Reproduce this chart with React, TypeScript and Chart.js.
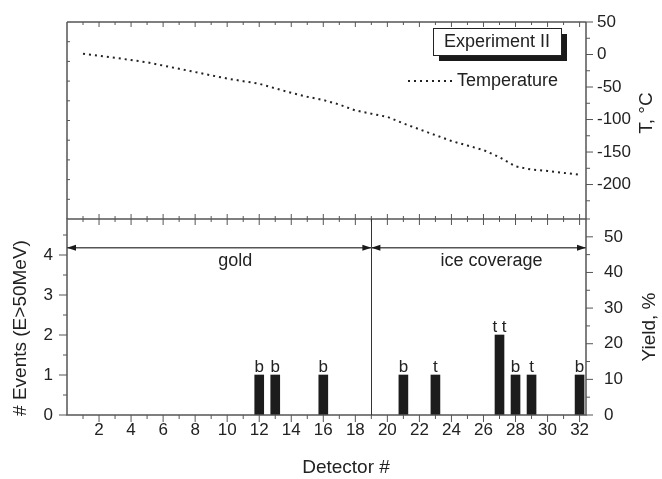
import React, { useEffect, useRef } from 'react';
import { Chart, registerables } from 'chart.js';

Chart.register(...registerables);

const FONT = '"Liberation Sans", Arial, Helvetica, sans-serif';
const TEXT = '#222222';
const FRAME = '#555555';

// Temperature curve (top panel)
const detectorNumbers = [1, 2, 3, 4, 5, 6, 7, 8, 9, 10, 11, 12, 13, 14, 15, 16, 17, 18, 19, 20, 21, 22, 23, 24, 25, 26, 27, 28, 29, 30, 31, 32];
const temperatureC = [1, -2, -5, -8.5, -12, -17, -22, -27, -32, -37, -41, -45, -52, -59, -65, -70, -77, -86, -91, -96, -106, -115, -124, -133, -140, -147, -158, -172, -177, -179, -182, -185];

// Events (bottom panel)
const eventDetectors = [12, 13, 16, 21, 23, 27, 28, 29, 32];
const eventCounts = [1, 1, 1, 1, 1, 2, 1, 1, 1];
const eventTags = ['b', 'b', 'b', 'b', 't', 't t', 'b', 't', 'b'];

// Coverage regions
const regionNames = ['gold', 'ice coverage'];
const regionStarts = [0, 19];
const regionEnds = [19, 32.4];
const regionLabelX = [10.5, 26.5];
const regionArrowLevel = 4.18;
const regionLabelLevel = 3.84;
const dividerDetector = 19;

// Axis ranges / tick labels
const xMin = 0;
const xMax = 32.4;
const tempMin = -253;
const tempMax = 50;
const eventsMax = 4.9;
const yieldMax = 55;
const xTickLabels = [2, 4, 6, 8, 10, 12, 14, 16, 18, 20, 22, 24, 26, 28, 30, 32];
const tempTickLabels = [-200, -150, -100, -50, 0, 50];
const eventTickLabels = [0, 1, 2, 3, 4];
const yieldTickLabels = [0, 10, 20, 30, 40, 50];

const fixAxis = (w?: number, h?: number) => (s: any) => {
  if (w !== undefined) s.width = w;
  if (h !== undefined) s.height = h;
  s.paddingTop = 0;
  s.paddingBottom = 0;
  s.paddingLeft = 0;
  s.paddingRight = 0;
};
const setTicks = (vals: number[]) => (s: any) => {
  s.ticks = vals.map((v) => ({ value: v }));
};
const noGrid = { display: false, drawTicks: false, tickLength: 0, offset: false };

function seg(ctx: CanvasRenderingContext2D, x1: number, y1: number, x2: number, y2: number) {
  ctx.beginPath();
  ctx.moveTo(x1, y1);
  ctx.lineTo(x2, y2);
  ctx.stroke();
}

function rotatedText(ctx: CanvasRenderingContext2D, text: string, x: number, y: number) {
  ctx.save();
  ctx.translate(x, y);
  ctx.rotate(-Math.PI / 2);
  ctx.textAlign = 'center';
  ctx.textBaseline = 'middle';
  ctx.fillText(text, 0, 0);
  ctx.restore();
}

const topPlugin = {
  id: 'topDecor',
  afterDraw(chart: any) {
    const ctx: CanvasRenderingContext2D = chart.ctx;
    const ca = chart.chartArea;
    const x = chart.scales.x;
    const yL = chart.scales.yL;
    const yT = chart.scales.yT;
    ctx.save();
    ctx.strokeStyle = FRAME;
    ctx.lineWidth = 1.5;
    seg(ctx, ca.left, ca.top, ca.right, ca.top);
    seg(ctx, ca.left, ca.top, ca.left, ca.bottom);
    seg(ctx, ca.right, ca.top, ca.right, ca.bottom);
    ctx.lineWidth = 1;
    for (let v = 1; v <= 32; v++) {
      const px = x.getPixelForValue(v);
      const len = v % 2 === 0 ? 5 : 3;
      seg(ctx, px, ca.top, px, ca.top + len);
      seg(ctx, px, ca.bottom, px, ca.bottom - len);
    }
    for (let v = 1; v <= 9; v++) {
      const py = yL.getPixelForValue(v);
      seg(ctx, ca.left, py, ca.left + 3, py);
    }
    for (let v = -225; v <= 50; v += 25) {
      const py = yT.getPixelForValue(v);
      const len = v % 50 === 0 ? 7 : 4;
      seg(ctx, ca.right, py, ca.right + len, py);
    }

    // Experiment box
    const bw = 128, bh = 27;
    const bx = ca.right - 25 - bw;
    const by = ca.top + 6;
    ctx.fillStyle = '#1a1a1a';
    ctx.fillRect(bx + 6, by + 6, bw, bh);
    ctx.fillStyle = '#ffffff';
    ctx.fillRect(bx, by, bw, bh);
    ctx.strokeStyle = '#222';
    ctx.lineWidth = 1;
    ctx.strokeRect(bx + 0.5, by + 0.5, bw, bh);
    ctx.fillStyle = TEXT;
    ctx.font = `18px ${FONT}`;
    ctx.textAlign = 'center';
    ctx.textBaseline = 'middle';
    ctx.fillText('Experiment II', bx + bw / 2, by + bh / 2 + 1);

    // Legend
    const ly = ca.top + 59;
    ctx.strokeStyle = '#222';
    ctx.lineWidth = 2;
    ctx.setLineDash([2, 4]);
    seg(ctx, ca.right - 178, ly, ca.right - 134, ly);
    ctx.setLineDash([]);
    ctx.textAlign = 'left';
    ctx.fillText('Temperature', ca.right - 129, ly);

    // Axis title
    ctx.font = `19px ${FONT}`;
    rotatedText(ctx, 'T, °C', 647, 113);
    ctx.restore();
  },
};

const bottomPlugin = {
  id: 'bottomDecor',
  afterDraw(chart: any) {
    const ctx: CanvasRenderingContext2D = chart.ctx;
    const ca = chart.chartArea;
    const x = chart.scales.x;
    const yE = chart.scales.yE;
    const yY = chart.scales.yY;
    ctx.save();
    ctx.strokeStyle = FRAME;
    ctx.lineWidth = 1.5;
    ctx.strokeRect(ca.left, ca.top, ca.right - ca.left, ca.bottom - ca.top);
    ctx.lineWidth = 1;
    for (let v = 1; v <= 32; v++) {
      const px = x.getPixelForValue(v);
      const major = v % 2 === 0;
      seg(ctx, px, ca.bottom, px, ca.bottom + (major ? 7 : 4));
      seg(ctx, px, ca.top, px, ca.top + (major ? 6 : 3));
    }
    for (let v = 0; v <= 4.5; v += 0.5) {
      const py = yE.getPixelForValue(v);
      const len = Number.isInteger(v) ? 8 : 4;
      seg(ctx, ca.left - len, py, ca.left, py);
    }
    for (let v = 0; v <= 55; v += 5) {
      const py = yY.getPixelForValue(v);
      const len = v % 10 === 0 ? 7 : 4;
      seg(ctx, ca.right, py, ca.right + len, py);
    }

    // Divider
    ctx.strokeStyle = '#333';
    ctx.lineWidth = 1;
    const dx = Math.round(x.getPixelForValue(dividerDetector)) + 0.5;
    seg(ctx, dx, ca.top, dx, ca.bottom);

    // Region arrows
    const ay = yE.getPixelForValue(regionArrowLevel);
    ctx.font = `18px ${FONT}`;
    ctx.textAlign = 'center';
    ctx.textBaseline = 'middle';
    regionNames.forEach((name, i) => {
      const x1 = x.getPixelForValue(regionStarts[i]);
      const x2 = x.getPixelForValue(regionEnds[i]);
      ctx.strokeStyle = FRAME;
      ctx.lineWidth = 1.5;
      seg(ctx, x1, ay, x2, ay);
      ctx.fillStyle = '#1a1a1a';
      ctx.beginPath();
      ctx.moveTo(x1, ay);
      ctx.lineTo(x1 + 9, ay - 3);
      ctx.lineTo(x1 + 9, ay + 3);
      ctx.closePath();
      ctx.fill();
      ctx.beginPath();
      ctx.moveTo(x2, ay);
      ctx.lineTo(x2 - 9, ay - 3);
      ctx.lineTo(x2 - 9, ay + 3);
      ctx.closePath();
      ctx.fill();
      ctx.fillStyle = TEXT;
      ctx.fillText(name, x.getPixelForValue(regionLabelX[i]), yE.getPixelForValue(regionLabelLevel));
    });

    // Bar tags
    ctx.font = `17px ${FONT}`;
    ctx.textBaseline = 'alphabetic';
    ctx.fillStyle = TEXT;
    eventDetectors.forEach((d, i) => {
      ctx.fillText(eventTags[i], x.getPixelForValue(d), yE.getPixelForValue(eventCounts[i]) - 3);
    });

    // Axis titles
    ctx.font = `19px ${FONT}`;
    const mid = (ca.top + ca.bottom) / 2;
    rotatedText(ctx, '# Events (E>50MeV)', 21, mid + 11);
    rotatedText(ctx, 'Yield, %', 650, mid + 10);
    ctx.textAlign = 'center';
    ctx.textBaseline = 'middle';
    ctx.fillText('Detector #', 346, ca.bottom + 53);
    ctx.restore();
  },
};

const tickFont = { family: FONT, size: 17 };

export default function App() {
  const topRef = useRef<HTMLCanvasElement>(null);
  const botRef = useRef<HTMLCanvasElement>(null);

  useEffect(() => {
    if (!topRef.current || !botRef.current) return;
    const top = new Chart(topRef.current, {
      type: 'line',
      data: {
        datasets: [
          {
            label: 'Temperature',
            data: detectorNumbers.map((d, i) => ({ x: d, y: temperatureC[i] })),
            xAxisID: 'x',
            yAxisID: 'yT',
            borderColor: '#222',
            borderWidth: 2,
            borderDash: [2, 4],
            pointRadius: 0,
            tension: 0,
            fill: false,
          } as any,
        ],
      },
      options: {
        responsive: false,
        animation: false,
        devicePixelRatio: 1,
        layout: { padding: { top: 22, bottom: 10, left: 0, right: 0 } },
        plugins: { legend: { display: false }, tooltip: { enabled: false } },
        scales: {
          x: {
            type: 'linear',
            offset: false,
            min: xMin,
            max: xMax,
            ticks: { display: false },
            grid: noGrid,
            border: { display: false },
            afterFit: fixAxis(undefined, 0),
          },
          yL: {
            type: 'linear',
            position: 'left',
            min: 0,
            max: 10,
            ticks: { display: false },
            grid: noGrid,
            border: { display: false },
            afterFit: fixAxis(67),
          },
          yT: {
            type: 'linear',
            position: 'right',
            min: tempMin,
            max: tempMax,
            afterBuildTicks: setTicks(tempTickLabels),
            ticks: {
              autoSkip: false,
              padding: 11,
              color: TEXT,
              font: tickFont,
              callback: (v: any) => String(v),
            },
            grid: noGrid,
            border: { display: false },
            afterFit: fixAxis(76),
          },
        },
      } as any,
      plugins: [topPlugin],
    });

    const bot = new Chart(botRef.current, {
      type: 'bar',
      data: {
        datasets: [
          {
            label: 'Events',
            data: eventDetectors.map((d, i) => ({ x: d, y: eventCounts[i] })),
            xAxisID: 'x',
            yAxisID: 'yE',
            backgroundColor: '#1c1c1c',
            borderWidth: 0,
            barThickness: 9,
          } as any,
        ],
      },
      options: {
        responsive: false,
        animation: false,
        devicePixelRatio: 1,
        layout: { padding: { top: 10, bottom: 0, left: 0, right: 0 } },
        plugins: { legend: { display: false }, tooltip: { enabled: false } },
        scales: {
          x: {
            type: 'linear',
            position: 'bottom',
            offset: false,
            min: xMin,
            max: xMax,
            afterBuildTicks: setTicks(xTickLabels),
            ticks: {
              autoSkip: false,
              maxRotation: 0,
              padding: 5,
              color: TEXT,
              font: tickFont,
              callback: (v: any) => String(v),
            },
            grid: noGrid,
            border: { display: false },
            afterFit: fixAxis(undefined, 64),
          },
          yE: {
            type: 'linear',
            position: 'left',
            min: 0,
            max: eventsMax,
            afterBuildTicks: setTicks(eventTickLabels),
            ticks: {
              autoSkip: false,
              padding: 14,
              color: TEXT,
              font: tickFont,
              callback: (v: any) => String(v),
            },
            grid: noGrid,
            border: { display: false },
            afterFit: fixAxis(67),
          },
          yY: {
            type: 'linear',
            position: 'right',
            min: 0,
            max: yieldMax,
            afterBuildTicks: setTicks(yieldTickLabels),
            ticks: {
              autoSkip: false,
              padding: 18,
              color: TEXT,
              font: tickFont,
              callback: (v: any) => String(v),
            },
            grid: noGrid,
            border: { display: false },
            afterFit: fixAxis(76),
          },
        },
      } as any,
      plugins: [bottomPlugin],
    });

    return () => {
      top.destroy();
      bot.destroy();
    };
  }, []);

  return (
    <div style={{ position: 'absolute', left: 0, top: 0, width: 662, height: 479, background: '#ffffff' }}>
      <canvas ref={topRef} width={662} height={229} style={{ position: 'absolute', left: 0, top: 0 }} />
      <canvas ref={botRef} width={662} height={270} style={{ position: 'absolute', left: 0, top: 209 }} />
    </div>
  );
}
